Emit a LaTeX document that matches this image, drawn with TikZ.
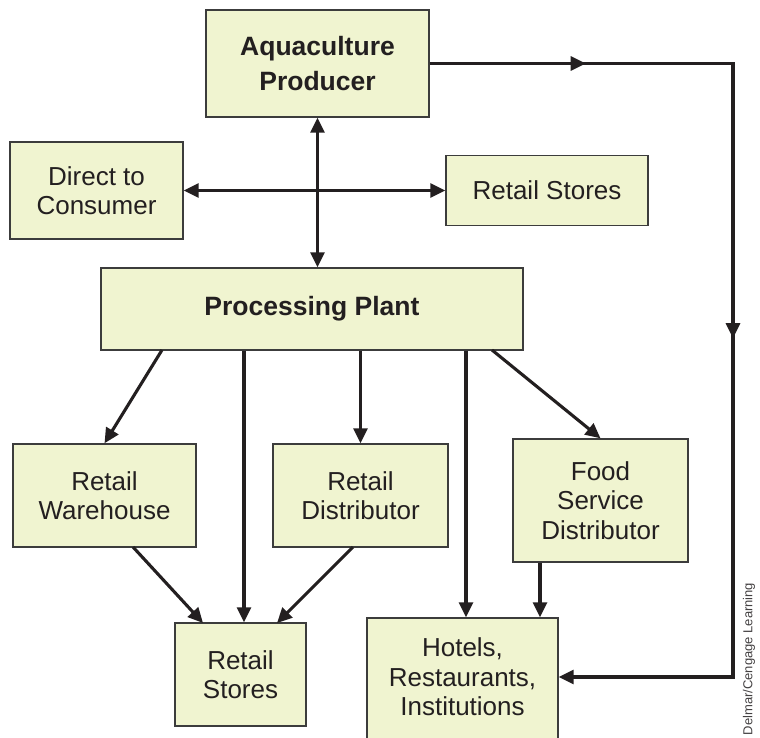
\documentclass[tikz,border=0pt]{standalone}
\usepackage{fontspec}
\setmainfont{Liberation Sans}
\usetikzlibrary{arrows.meta,decorations.markings}
\definecolor{boxfill}{HTML}{F0F4D0}
\definecolor{ink}{HTML}{231F20}
\definecolor{edgecol}{HTML}{3C3C3C}
\begin{document}
\begin{tikzpicture}[x=1pt,y=-1pt,
  tip/.tip={Triangle[length=15pt,width=14pt]},
  boxshape/.style={draw=edgecol, line width=1.4pt, fill=boxfill},
  box/.style={boxshape, inner sep=0pt, align=center, text=ink, font=\fontsize{26}{29.5}\selectfont},
  boldbox/.style={box, font=\fontsize{26.5}{35}\selectfont\bfseries},
  conn/.style={draw=ink, line width=3.1pt, -tip},
  both/.style={draw=ink, line width=3.1pt, tip-tip},
]
\clip (0,0) rectangle (760,737);
% boxes
\node[boldbox, minimum width=223pt, minimum height=107pt] (A) at (317.5,63.5) {Aquaculture\\Producer};
\node[box, minimum width=173pt, minimum height=97pt] (D) at (96.5,190.5) {Direct to\\Consumer};
\node[box, minimum width=202pt, minimum height=70pt] (R1) at (547,190.5) {Retail Stores};
\node[boldbox, minimum width=422pt, minimum height=82pt] (P) at (312,309) {Processing Plant};
\node[box, minimum width=183pt, minimum height=103pt] (W) at (104.5,495.5) {Retail\\Warehouse};
\node[box, minimum width=175pt, minimum height=103pt] (RD) at (360.5,495.5) {Retail\\Distributor};
\node[box, minimum width=175pt, minimum height=123pt] (F) at (600.5,500.5) {Food\\Service\\Distributor};
\node[box, minimum width=131pt, minimum height=103pt] (S) at (240.5,674.5) {Retail\\Stores};
\draw[boxshape] (367,618) rectangle (558,770);
\node[box, draw=none, fill=none, minimum width=191pt, minimum height=118pt] (H) at (462.5,677) {Hotels,\\Restaurants,\\Institutions};
% helper coordinates
\coordinate (pw) at (162,350);
\coordinate (pe) at (492,350);
\coordinate (xs) at (244,0);
\coordinate (xh) at (466,0);
\coordinate (xf) at (540,0);
\coordinate (wb) at (133,547);
\coordinate (sa) at (203,623);
\coordinate (db) at (353,547);
\coordinate (sb) at (277,623);
\coordinate (cR) at (733,0);
% connectors
\draw[both] (A.south) -- (A.south |- P.north);
\draw[both] (D.east) -- (D.east -| R1.west);
\draw[conn] (pw) -- (W.north);
\draw[conn] (P.south -| xs) -- (S.north -| xs);
\draw[conn] (P.south -| RD.north) -- (RD.north);
\draw[conn] (P.south -| xh) -- (H.north -| xh);
\draw[conn] (pe) -- (F.north);
\draw[conn] (F.south -| xf) -- (H.north -| xf);
\draw[conn] (wb) -- (sa);
\draw[conn] (db) -- (sb);
\draw[conn, postaction={decorate, decoration={markings,
    mark=at position 156pt with {\arrow{tip}},
    mark=at position 578pt with {\arrow{tip}}}}]
  (A.east) -- (A.east -| cR) -- (cR |- H.east) -- (H.east);
% credit
\node[rotate=90, font=\fontsize{13}{15}\selectfont, text=ink!85] (cr) at (749,659) {Delmar/Cengage Learning};
\end{tikzpicture}
\end{document}
